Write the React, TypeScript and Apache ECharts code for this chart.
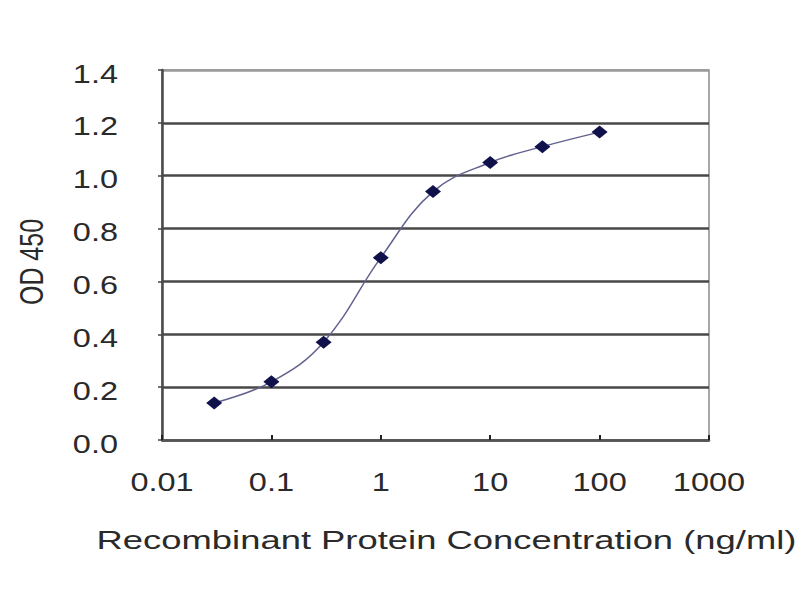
import { useEffect, useRef } from "react";
import * as echarts from "echarts";

const CONC = [0.03, 0.1, 0.3, 1, 3, 10, 30, 100];
const OD = [0.14, 0.22, 0.37, 0.69, 0.94, 1.05, 1.11, 1.165];
const X_TICKS = [0.01, 0.1, 1, 10, 100, 1000];
const Y_TICKS = [0, 0.2, 0.4, 0.6, 0.8, 1.0, 1.2, 1.4];
const X_TITLE = "Recombinant Protein Concentration (ng/ml)";
const Y_TITLE = "OD 450";

const FAMILY = "'Liberation Sans', Arial, sans-serif";
const TEXT = "#2a2a2a";
// the reference picture is stretched sideways, so texts are too
const STRETCH = 1.3;

export default function App() {
  const ref = useRef<HTMLDivElement>(null);

  useEffect(() => {
    if (!ref.current) return;
    document.body.style.margin = "0";
    const chart = echarts.init(ref.current, undefined, { renderer: "svg" });

    const option: echarts.EChartsOption = {
      animation: false,
      backgroundColor: "#fff",
      grid: {
        left: 162,
        right: 91,
        top: 70,
        bottom: 160,
        show: true,
        borderColor: "#8c8c8c",
        borderWidth: 1.5,
      },
      xAxis: {
        type: "log",
        logBase: 10,
        min: 0.01,
        max: 1000,
        axisLine: { show: true, lineStyle: { color: "#555", width: 2.5 } },
        axisTick: { show: true, inside: true, length: 5, lineStyle: { color: "#222", width: 2 } },
        axisLabel: { show: false },
        splitLine: { show: false },
      },
      yAxis: {
        type: "value",
        min: 0,
        max: 1.4,
        interval: 0.2,
        axisLine: { show: true, lineStyle: { color: "#4a4a4a", width: 2.5 } },
        axisTick: { show: true, length: 4, lineStyle: { color: "#444", width: 1.5 } },
        axisLabel: { show: false },
        splitLine: {
          show: true,
          lineStyle: {
            color: ["#484848", "#484848", "#484848", "#484848", "#484848", "#484848", "#484848", "#9a9a9a"],
            width: 2.5,
          },
        },
      },
      series: [
        {
          type: "line",
          data: CONC.map((c, i) => [c, OD[i]]),
          smooth: 0.4,
          symbol: "diamond",
          symbolSize: [16, 13],
          itemStyle: { color: "#10104a" },
          lineStyle: { color: "#62628f", width: 1.5 },
        },
      ],
    };
    chart.setOption(option);

    // place the tick labels and titles on the library's own scales
    const toX = (v: number) => chart.convertToPixel({ xAxisIndex: 0 }, v) as number;
    const toY = (v: number) => chart.convertToPixel({ yAxisIndex: 0 }, v) as number;
    const left = toX(X_TICKS[0]);
    const right = toX(X_TICKS[X_TICKS.length - 1]);
    const bottom = toY(Y_TICKS[0]);
    const top = toY(Y_TICKS[Y_TICKS.length - 1]);

    const graphic: any[] = [];
    X_TICKS.forEach((v) => {
      graphic.push({
        type: "text",
        x: toX(v),
        y: bottom + 42,
        scaleX: STRETCH,
        style: {
          text: String(v),
          font: `25px ${FAMILY}`,
          fill: TEXT,
          textAlign: "center",
          textVerticalAlign: "middle",
        },
      });
    });
    Y_TICKS.forEach((v) => {
      graphic.push({
        type: "text",
        x: left - 44,
        y: toY(v) + 4,
        scaleX: STRETCH,
        style: {
          text: v.toFixed(1),
          font: `25px ${FAMILY}`,
          fill: TEXT,
          textAlign: "right",
          textVerticalAlign: "middle",
        },
      });
    });
    graphic.push({
      type: "text",
      x: (left + right) / 2 + 11,
      y: bottom + 100,
      scaleX: 1.4,
      style: {
        text: X_TITLE,
        font: `26px ${FAMILY}`,
        fill: TEXT,
        textAlign: "center",
        textVerticalAlign: "middle",
      },
    });
    graphic.push({
      type: "text",
      x: 32,
      y: (top + bottom) / 2 + 7,
      rotation: Math.PI / 2,
      scaleY: STRETCH,
      style: {
        text: Y_TITLE,
        font: `25px ${FAMILY}`,
        fill: TEXT,
        textAlign: "center",
        textVerticalAlign: "middle",
      },
    });
    chart.setOption({ graphic });

    return () => chart.dispose();
  }, []);

  return <div ref={ref} style={{ width: 800, height: 600 }} />;
}
